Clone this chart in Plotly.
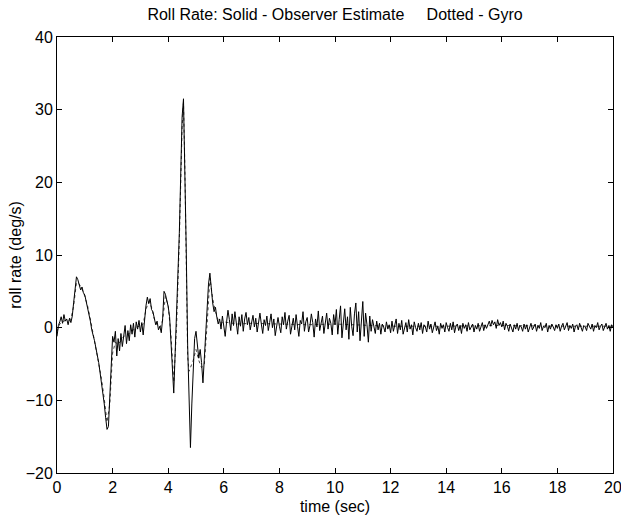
import numpy as np
import plotly.graph_objects as go

# ---- Observer estimate (solid), sampled every 0.05 s from 0 to 20 s ----
obs_0_6 = [
    -1.2, 0.3, 0.8, 1.5, 0.6, 1.8, 0.9, 1.2, 0.4, 1.3, 0.7, 1.6, 3.5, 5.8, 7.0, 6.6, 6.0, 5.2, 5.6, 4.8,
    4.5, 3.6, 3.0, 1.8, 0.9, -0.3, -1.0, -1.8, -2.8, -3.6, -4.8, -6.2, -7.5, -8.8, -10.5, -12.4, -14.0, -13.6, -9.0, -4.5,
    -1.2, -2.0, -0.5, -3.9, -1.5, -3.2, -0.8, -2.6, -1.0, 0.3, -2.2, -0.4, -1.8, 0.4, -0.9, 0.6, -1.3, 0.8, -0.2, 1.0,
    -0.6, 0.7, -1.0, 1.6, 3.0, 4.2, 3.3, 4.0, 2.5, 2.2, 1.0, 0.4, 0.9, -0.3, 0.2, -0.7, 1.2, 5.0, 4.6, 3.8,
    2.9, 1.5, -2.5, -6.0, -9.0, -3.5, 1.5, 6.5, 13.0, 21.0, 29.0, 31.5, 23.0, 10.5, -2.5, -12.0, -16.5, -10.5, -4.5, -1.5,
    -0.5, -2.5, -4.2, -3.0, -4.8, -7.6, -4.0, -1.0, 2.8, 6.0, 7.5, 5.0, 3.4, 2.2, 2.8, 1.4, 0.5, 1.2, -0.2, 1.6,
    0.4,
]
obs_6_20 = [
    -1.2, 0.8, 2.4, 1.1, -0.4, 1.9, 0.3, 2.2, 0.6, -0.9, 1.5, 0.2, 1.8, -0.5, 1.2, 2.1, 0.4, 1.4, -0.3, 1.0,
    1.7, 0.1, 1.3, -0.6, 0.9, 2.0, 0.5, -0.8, 1.1, 0.3, 1.6, -0.4, 0.7, 1.9, 0.0, 1.2, -1.1, 0.6, 1.4, 0.2,
    -0.7, 1.5, 0.4, 2.1, -0.2, 0.9, 1.7, -0.9, 0.6, 1.3, -0.3, 1.8, 0.2, -1.2, 1.0, 0.5, 2.2, -0.5, 0.8, 1.4,
    -0.6, 0.3, 1.9, 0.7, -1.3, 1.2, 0.1, 2.3, -0.4, 0.9, 1.6, -0.8, 0.5, 2.0, -0.2, 1.3, 0.6, -1.0, 1.8, 0.4,
    2.5, -0.9, 1.1, 3.0, -1.4, 0.7, 2.6, -0.3, 1.5, -1.6, 2.8, 0.2, -1.1, 1.9, 3.4, -0.6, 2.2, -1.8, 1.0, 3.6,
    -1.2, 2.0, 0.4, -2.0, 1.6, -0.5, 1.1, 0.2, -0.8, 0.9, -0.3, 0.6, -0.9, 0.5, 0.1, -0.6, 0.8, -0.2, 0.4, -0.7,
    0.9, -0.5, 0.3, 1.2, -0.8, 0.6, -0.3, 1.0, -0.9, 0.2, 0.7, -0.6, 1.1, -0.2, 0.4, -1.0, 0.8, 0.0, -0.5, 0.6,
    -0.3, 0.7, -0.8, 0.4, 0.1, -0.6, 0.9, -0.2, 0.5, -0.7, 0.3, 0.8, -0.4, 0.2, -0.9, 0.6, -0.1, 0.4, -0.6, 0.7,
    0.0, -0.5, 0.6, -0.3, 0.8, -0.7, 0.2, 0.5, -0.4, 0.3, -0.8, 0.6, -0.1, 0.4, -0.5, 0.7, -0.3, 0.1, 0.5, -0.6,
    0.3, -0.2, 0.6, -0.5, 0.1, 0.7, -0.4, 0.4, -0.1, 0.5, 0.9, 0.2, 1.0, 0.4, 0.8, -0.1, 1.1, 0.3, 0.7, 0.1,
    0.9, -0.3, 0.6, 0.2, -0.5, 0.5, 0.0, -0.6, 0.4, -0.2, 0.6, -0.4, 0.3, 0.1, -0.5, 0.5, -0.2, 0.4, -0.6, 0.2,
    0.6, -0.3, 0.1, 0.5, -0.5, 0.3, -0.1, 0.7, -0.4, 0.2, 0.0, 0.6, -0.6, 0.3, -0.2, 0.5, 0.1, -0.4, 0.4, -0.1,
    0.5, -0.5, 0.2, 0.6, -0.3, 0.1, 0.7, -0.4, 0.3, -0.1, 0.5, -0.6, 0.2, 0.4, -0.3, 0.6, 0.0, -0.5, 0.3, 0.1,
    -0.4, 0.6, 0.2, -0.2, 0.5, -0.5, 0.3, 0.0, 0.7, -0.3, 0.2, 0.5, -0.4, 0.1, 0.6, -0.2, 0.3, -0.5, 0.4, 0.1,
]
observer = obs_0_6 + obs_6_20
t_obs = np.round(np.arange(len(observer)) * 0.05, 2)

# ---- Gyro (dotted) ----
t_gyro = [0.0, 0.1, 0.2, 0.3, 0.4, 0.5, 0.6, 0.7, 0.8, 0.9, 1.0, 1.1, 1.2, 1.3, 1.4, 1.5, 1.6, 1.7, 1.8, 1.9,
          2.0, 2.1, 2.2, 2.3, 2.4, 2.5, 2.6, 2.7, 2.8, 2.9, 3.0, 3.1, 3.2, 3.3, 3.4, 3.5, 3.6, 3.7, 3.8, 3.9,
          4.0, 4.1, 4.2, 4.3, 4.4, 4.5, 4.55, 4.6, 4.65, 4.7, 4.75, 4.8, 4.9, 5.0, 5.1, 5.2, 5.3, 5.4, 5.5, 5.6,
          5.7, 5.8, 5.9, 6.0, 6.5, 7.0, 8.0, 9.0, 10.0, 11.0, 12.0, 14.0, 16.0, 18.0, 20.0]
gyro = [-0.5, 0.5, 0.8, 1.0, 0.9, 1.2, 3.0, 6.2, 6.0, 5.3, 4.3, 3.0, 1.2, -0.8, -2.6, -4.5, -7.0, -9.8, -13.0, -10.5,
        -3.5, -2.0, -2.3, -1.8, -1.2, -1.0, -0.8, -0.4, -0.2, 0.2, 0.1, 0.5, 2.5, 3.6, 2.8, 1.2, 0.4, 0.0, 1.0, 4.3,
        3.0, -1.0, -7.5, 0.0, 12.0, 27.5, 31.0, 22.0, 8.0, -4.0, -6.0, -5.5, -4.5, -3.0, -4.5, -5.5, -5.0, 0.5, 6.8, 4.0,
        2.2, 1.0, 0.6, 0.8, 0.5, 0.6, 0.5, 0.4, 0.5, 0.3, 0.2, 0.2, 0.3, 0.2, 0.2]

x_ticks = [0, 2, 4, 6, 8, 10, 12, 14, 16, 18, 20]
y_ticks = [-20, -10, 0, 10, 20, 30, 40]

fig = go.Figure()
fig.add_trace(go.Scatter(x=t_gyro, y=gyro, mode="lines",
                         line=dict(color="#444444", width=1, dash="dot"), showlegend=False))
fig.add_trace(go.Scatter(x=t_obs, y=observer, mode="lines",
                         line=dict(color="black", width=1), showlegend=False))

font = "Liberation Sans, Arial, sans-serif"
fs = 16
fig.update_layout(
    width=621, height=519,
    margin=dict(l=57, r=8, t=37, b=46),
    paper_bgcolor="white", plot_bgcolor="white",
    font=dict(family=font, size=fs, color="black"),
    title=dict(text="Roll Rate: Solid - Observer Estimate\u00a0\u00a0\u00a0\u00a0 Dotted - Gyro",
               x=(57 + 613) / 2 / 621, xanchor="center",
               y=1 - 14 / 519, yanchor="middle", yref="container",
               font=dict(family=font, size=fs, color="black")),
)
fig.update_xaxes(range=[0, 20], tickvals=x_ticks, ticks="inside", ticklen=5, tickcolor="black",
                 showline=True, linecolor="black", linewidth=1, mirror="ticks", showgrid=False,
                 zeroline=False, title=dict(text="time (sec)", standoff=5, font=dict(size=fs)),
                 tickfont=dict(size=fs), ticklabeloverflow="allow", automargin=False)
fig.update_yaxes(range=[-20, 40], tickvals=y_ticks, ticks="inside", ticklen=5, tickcolor="black",
                 showline=True, linecolor="black", linewidth=1, mirror="ticks", showgrid=False,
                 zeroline=False, title=dict(text="roll rate (deg/s)", standoff=0, font=dict(size=fs)),
                 tickfont=dict(size=fs), automargin=False)

fig.write_html("out.html")
